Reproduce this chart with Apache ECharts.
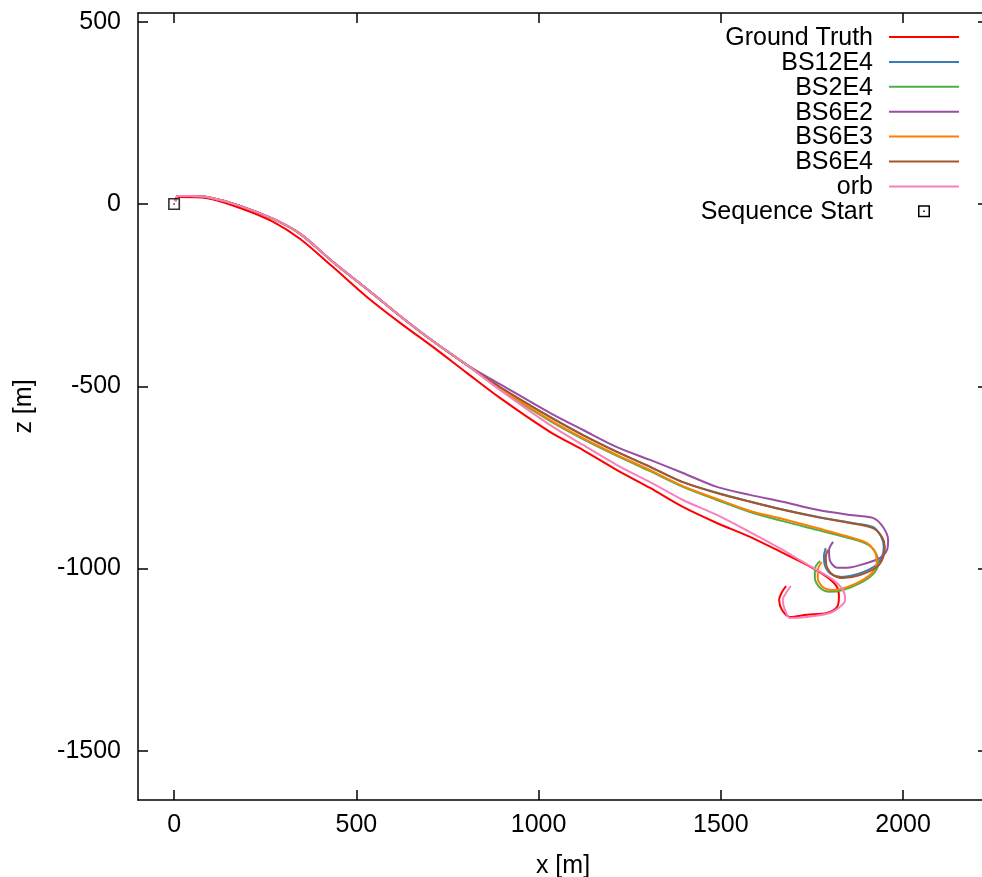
<!DOCTYPE html>
<html><head><meta charset="utf-8">
<script src="https://cdn.jsdelivr.net/npm/echarts@6/dist/echarts.min.js"></script>
<style>html,body{margin:0;padding:0;background:#fff}#c{width:982px;height:877px}</style>
</head><body><div id="c"></div>
<script>
const seriesNames = ['Ground Truth','BS12E4','BS2E4','BS6E2','BS6E3','BS6E4','orb'];
const seriesColors = ['#ff0000','#377eb8','#4daf4a','#984ea3','#ff7f00','#a65628','#f781bf'];
const xTicks = [0,500,1000,1500,2000];
const yTicks = [-1500,-1000,-500,0,500];
const startPoint = [[0,0]];

const sharedStart = [[3,8],[11,22],[44,22],[91,19],[181,-5],[272,-41],[346,-82],[436,-159],[529,-233],[620,-307],[710,-376],[804,-442]];

const groundTruth = [[3,8],[11,19],[91,16],[181,-11],[272,-49],[346,-96],[436,-173],[529,-255],[620,-326],[710,-392],[804,-464],[894,-532],[1031,-625],[1122,-675],[1215,-730],[1306,-779],[1396,-831],[1489,-875],[1580,-913],[1670,-957],[1736,-990],[1791,-1023],[1819,-1051],[1824,-1078],[1819,-1105],[1791,-1122],[1736,-1127],[1690,-1133],[1668,-1114],[1660,-1086],[1668,-1064],[1679,-1048]];

const bs12e4Tail = [[894,-502],[1031,-584],[1122,-634],[1215,-680],[1306,-721],[1396,-763],[1489,-792],[1580,-816],[1670,-838],[1764,-858],[1854,-874],[1917,-886],[1939,-911],[1947,-941],[1942,-968],[1923,-993],[1876,-1015],[1832,-1023],[1802,-1015],[1786,-993],[1783,-966],[1788,-944]];

const bs2e4Tail = [[894,-508],[1031,-595],[1122,-645],[1215,-691],[1306,-733],[1396,-776],[1489,-812],[1580,-845],[1670,-870],[1764,-894],[1862,-919],[1906,-936],[1928,-963],[1931,-990],[1915,-1018],[1882,-1040],[1835,-1059],[1799,-1064],[1772,-1053],[1758,-1026],[1758,-1001],[1772,-979]];

const bs6e2Tail = [[894,-494],[1031,-573],[1122,-620],[1215,-667],[1306,-702],[1396,-738],[1489,-776],[1580,-798],[1670,-817],[1764,-839],[1854,-853],[1917,-861],[1945,-886],[1959,-922],[1956,-949],[1937,-971],[1901,-985],[1846,-998],[1819,-998],[1799,-977],[1797,-949],[1808,-927]];

const bs6e3Tail = [[894,-505],[1031,-592],[1122,-642],[1215,-688],[1306,-730],[1396,-774],[1489,-809],[1580,-842],[1670,-864],[1764,-889],[1862,-916],[1901,-930],[1923,-955],[1928,-982],[1917,-1009],[1890,-1031],[1846,-1051],[1808,-1059],[1780,-1051],[1766,-1026],[1766,-1004],[1777,-982]];

const bs6e4Tail = [[894,-502],[1031,-584],[1122,-634],[1215,-680],[1306,-721],[1396,-763],[1489,-793],[1580,-817],[1670,-839],[1764,-859],[1854,-875],[1917,-889],[1942,-913],[1950,-941],[1945,-971],[1928,-996],[1882,-1018],[1835,-1026],[1808,-1018],[1791,-996],[1788,-968],[1794,-949]];

const orbTail = [[894,-510],[1031,-606],[1122,-661],[1215,-716],[1306,-763],[1396,-812],[1489,-853],[1580,-900],[1670,-949],[1717,-977],[1764,-1004],[1808,-1031],[1835,-1059],[1841,-1086],[1827,-1105],[1799,-1122],[1736,-1133],[1690,-1136],[1676,-1114],[1670,-1086],[1681,-1064],[1692,-1048]];

const seriesData = [
  groundTruth,
  sharedStart.concat(bs12e4Tail),
  sharedStart.concat(bs2e4Tail),
  sharedStart.concat(bs6e2Tail),
  sharedStart.concat(bs6e3Tail),
  sharedStart.concat(bs6e4Tail),
  sharedStart.concat(orbTail)
];

const FONT = '"Liberation Sans", Arial, Helvetica, sans-serif';
const FS = 25;
const squareIcon = 'path://M0,0H12V12H0Z M1.6,1.6V10.4H10.4V1.6Z M5.2,5.2H6.8V6.8H5.2Z';

const chart = echarts.init(document.getElementById('c'), null, {renderer:'canvas'});

const series = seriesNames.map((n,i)=>({
  name:n, type:'line', data:seriesData[i], showSymbol:false, symbol:'none',
  smooth:0.3, lineStyle:{color:seriesColors[i], width:2}, itemStyle:{color:seriesColors[i]},
  xAxisIndex:0, yAxisIndex:0, animation:false, z:2+i
}));
series.push({
  name:'Sequence Start', type:'scatter', data:startPoint, symbol:squareIcon, symbolSize:12,
  itemStyle:{color:'#000'}, xAxisIndex:0, yAxisIndex:0, animation:false, z:20
});

// gnuplot-style key: right-aligned text, sample on the right
const graphics = [];
const keyNames = seriesNames.concat(['Sequence Start']);
keyNames.forEach((n,i)=>{
  const y = 37 + 24.9*i;
  graphics.push({type:'text', x:873, y:y+1, style:{text:n, fontFamily:FONT, fontSize:FS, fill:'#000', align:'right', verticalAlign:'middle'}});
  if (i < seriesNames.length) {
    graphics.push({type:'line', shape:{x1:889,y1:y,x2:959,y2:y}, style:{stroke:seriesColors[i], lineWidth:2}});
  } else {
    graphics.push({type:'rect', shape:{x:918.75,y:y-5.25,width:10.5,height:10.5}, style:{fill:'none', stroke:'#000', lineWidth:1.5}});
    graphics.push({type:'rect', shape:{x:923.2,y:y-0.8,width:1.6,height:1.6}, style:{fill:'#000'}});
  }
});

const axisCommon = {
  axisLine:{show:true, onZero:false, lineStyle:{color:'#000', width:1.5}},
  splitLine:{show:false}
};
const plain = v => String(v);
const XMIN = -99, XMAX = 2233, YMIN = -1635, YMAX = 524;

chart.setOption({
  backgroundColor:'#fff',
  animation:false,
  grid:{left:138, top:13, width:850, height:787, containLabel:false, outerBoundsMode:'none'},
  xAxis:[
    Object.assign({type:'value', position:'bottom', min:XMIN, max:XMAX,
      name:'x [m]', nameLocation:'middle', nameGap:54,
      nameTextStyle:{fontFamily:FONT, fontSize:FS, color:'#000'},
      axisTick:{show:true, inside:true, length:10, customValues:xTicks, lineStyle:{color:'#000', width:1.5}},
      axisLabel:{show:true, margin:13, customValues:xTicks, formatter:plain, fontFamily:FONT, fontSize:FS, color:'#000'}
    }, axisCommon),
    Object.assign({type:'value', position:'top', min:XMIN, max:XMAX,
      axisTick:{show:true, inside:true, length:10, customValues:xTicks, lineStyle:{color:'#000', width:1.5}},
      axisLabel:{show:false}
    }, axisCommon)
  ],
  yAxis:[
    Object.assign({type:'value', position:'left', min:YMIN, max:YMAX,
      name:'z [m]', nameLocation:'middle', nameGap:101, nameRotate:90,
      nameTextStyle:{fontFamily:FONT, fontSize:FS, color:'#000'},
      axisTick:{show:true, inside:true, length:10, customValues:yTicks, lineStyle:{color:'#000', width:1.5}},
      axisLabel:{show:true, margin:17, customValues:yTicks, formatter:plain, fontFamily:FONT, fontSize:FS, color:'#000'}
    }, axisCommon),
    Object.assign({type:'value', position:'right', min:YMIN, max:YMAX,
      axisTick:{show:true, inside:true, length:10, customValues:yTicks, lineStyle:{color:'#000', width:1.5}},
      axisLabel:{show:false}
    }, axisCommon)
  ],
  series: series,
  graphic: graphics
});
</script></body></html>
